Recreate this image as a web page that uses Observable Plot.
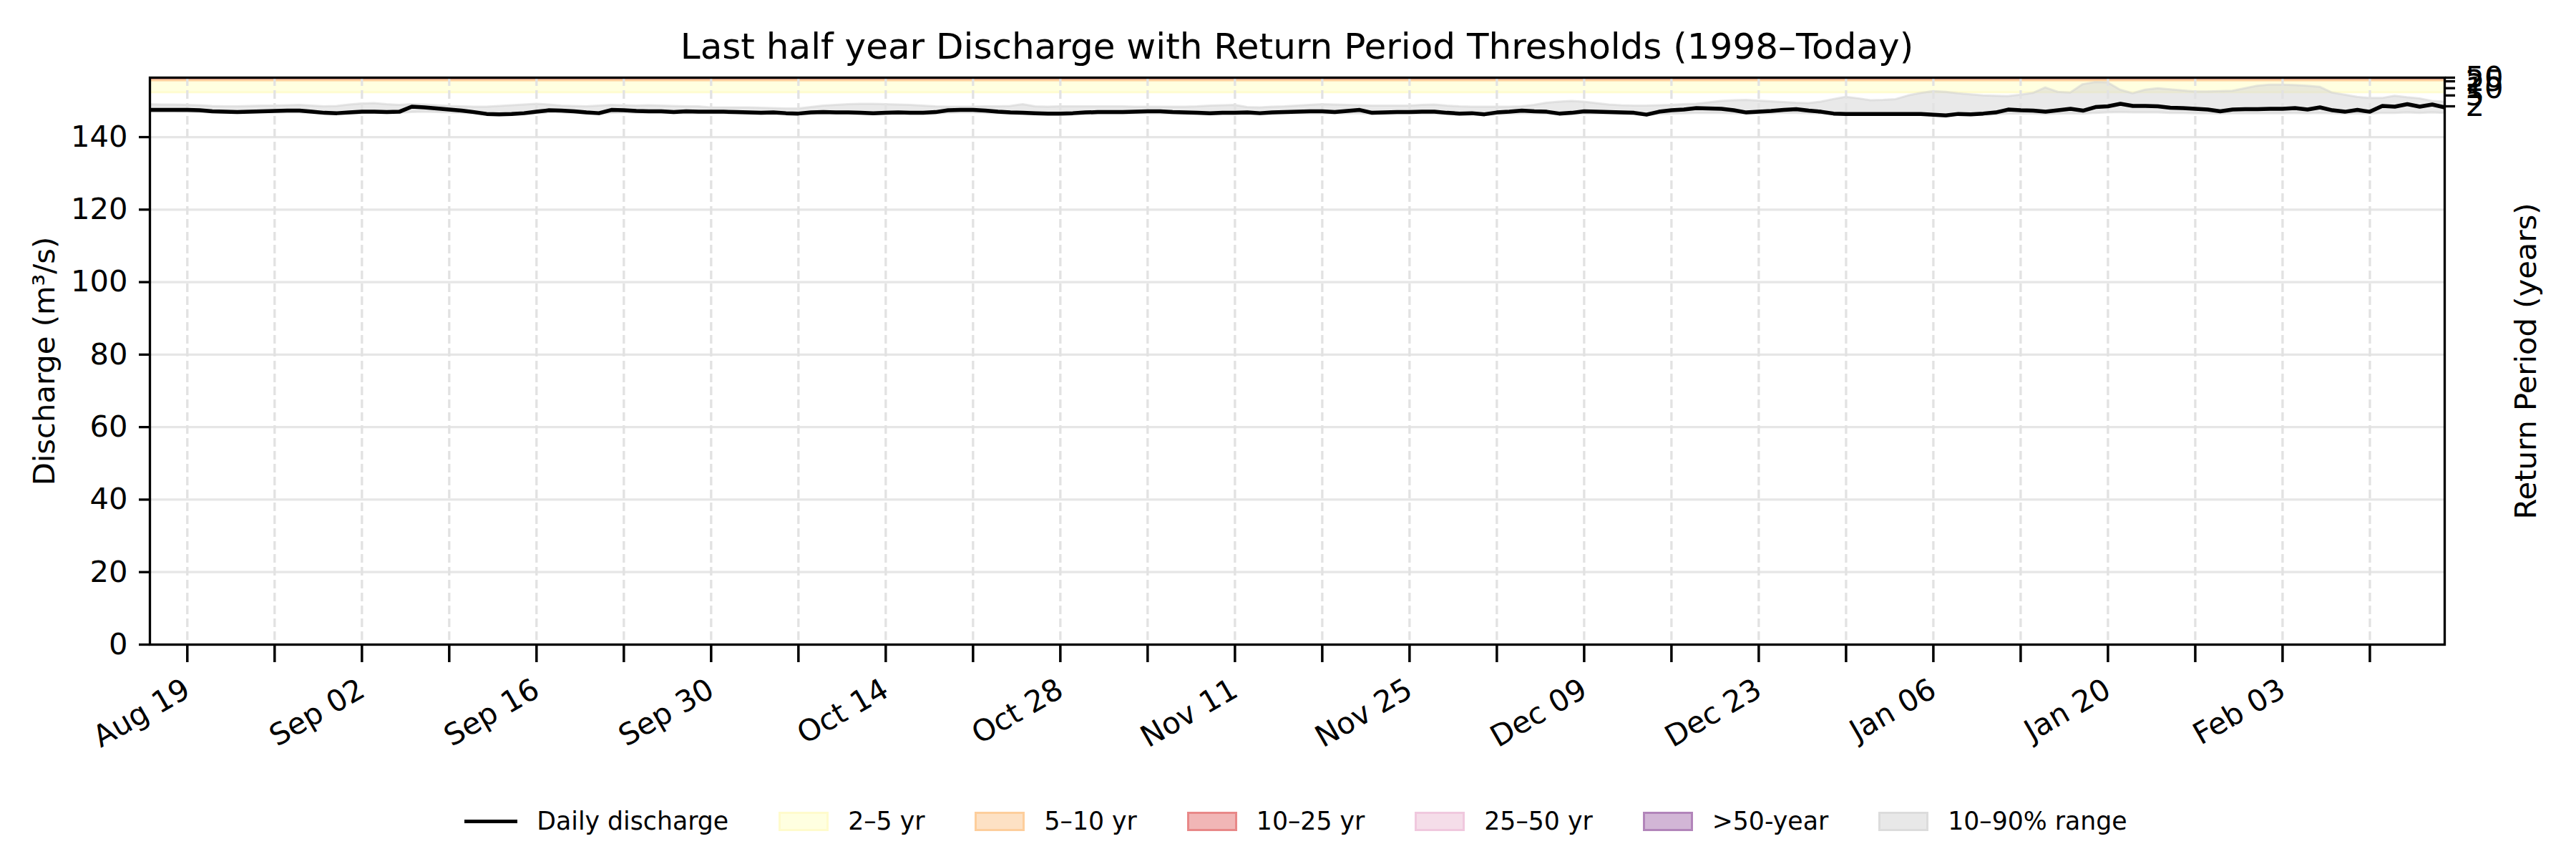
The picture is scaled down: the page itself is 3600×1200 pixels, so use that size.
<!DOCTYPE html>
<html><head><meta charset="utf-8">
<script src="https://cdn.jsdelivr.net/npm/d3@7"></script>
<script src="https://cdn.jsdelivr.net/npm/@observablehq/plot@0.6"></script>
<style>
body{margin:0;background:#fff;font-family:"DejaVu Sans",sans-serif;color:#000;}
#wrap{width:3600px;background:#fff;}
#title{box-sizing:border-box;width:3600px;height:60px;overflow:visible;padding:40px 184px 0 209px;font-size:50px;line-height:51px;text-align:center;white-space:nowrap;}
#chart svg{display:block;background:transparent;}
#legend{box-sizing:border-box;width:3600px;display:flex;justify-content:center;align-items:center;height:106px;padding-top:8px;font-size:34.7px;gap:70px;padding-left:22px;}
.item{display:flex;align-items:center;gap:27px;white-space:nowrap;}
.sw{width:70px;height:27px;box-sizing:border-box;border:3px solid;}
.ln{width:74px;height:5px;background:#000;}
</style>
</head><body>
<div id="wrap">
<div id="title">Last half year Discharge with Return Period Thresholds (1998–Today)</div>
<div id="chart"></div>
<div id="legend"></div>
</div>
<script>
// ---- data ----
const startDate = [2024, 7, 16]; // first daily value: 2024-08-16 (UTC)

const discharge = [
147.5,147.5,147.5,147.5,147.4,147.1,147.0,146.9,147.0,147.1,
147.2,147.3,147.3,147.0,146.7,146.6,146.8,147.0,147.0,146.9,
147.0,148.4,148.2,147.9,147.6,147.3,146.9,146.4,146.3,146.4,
146.6,147.0,147.4,147.3,147.1,146.8,146.6,147.5,147.4,147.2,
147.1,147.1,146.9,147.1,147.0,147.0,147.0,146.9,146.8,146.7,
146.8,146.6,146.5,146.8,146.9,146.8,146.8,146.7,146.6,146.7,
146.8,146.7,146.7,146.9,147.4,147.5,147.5,147.3,147.0,146.8,
146.7,146.6,146.5,146.5,146.6,146.8,146.9,146.9,146.9,147.0,
147.1,147.1,146.9,146.8,146.7,146.6,146.7,146.7,146.8,146.6,
146.8,146.9,147.0,147.1,147.1,146.9,147.2,147.5,146.7,146.8,
146.9,146.9,147.0,147.0,146.7,146.5,146.6,146.3,146.8,147.0,
147.3,147.1,147.0,146.5,146.7,147.1,147.0,146.9,146.8,146.7,
146.2,147.0,147.4,147.6,148.0,147.9,147.8,147.4,146.8,147.0,
147.2,147.5,147.7,147.3,147.0,146.5,146.4,146.4,146.4,146.4,
146.4,146.4,146.4,146.2,146.0,146.4,146.3,146.5,146.8,147.6,
147.4,147.3,147.0,147.4,147.8,147.3,148.3,148.5,149.2,148.6,
148.6,148.5,148.1,148.0,147.8,147.6,147.1,147.6,147.7,147.7,
147.8,147.8,148.0,147.6,148.2,147.4,147.0,147.5,147.0,148.6,
148.4,149.1,148.4,149.0,148.2
];

const q10 = [
146.9,146.9,146.9,146.8,146.8,146.7,146.6,146.6,146.6,146.7,
146.7,146.7,146.7,146.6,146.4,146.3,146.4,146.5,146.6,146.6,
146.6,146.8,146.9,146.8,146.7,146.6,146.4,146.1,146.0,146.1,
146.2,146.5,146.7,146.7,146.6,146.4,146.3,146.6,146.7,146.6,
146.6,146.6,146.5,146.5,146.5,146.5,146.5,146.4,146.4,146.3,
146.3,146.2,146.2,146.3,146.4,146.4,146.4,146.3,146.3,146.3,
146.4,146.4,146.4,146.4,146.6,146.7,146.7,146.6,146.5,146.4,
146.3,146.2,146.2,146.2,146.2,146.3,146.4,146.4,146.4,146.5,
146.5,146.5,146.4,146.3,146.3,146.2,146.3,146.3,146.3,146.2,
146.3,146.4,146.5,146.5,146.5,146.4,146.5,146.5,146.3,146.3,
146.4,146.4,146.4,146.4,146.3,146.2,146.2,146.0,146.2,146.4,
146.5,146.5,146.4,146.2,146.3,146.4,146.4,146.4,146.3,146.3,
146.1,146.3,146.4,146.5,146.6,146.6,146.6,146.5,146.4,146.4,
146.5,146.6,146.6,146.5,146.4,146.2,146.1,146.1,146.1,146.1,
146.1,146.1,146.1,146.0,145.9,146.0,146.0,146.1,146.2,146.4,
146.4,146.4,146.3,146.4,146.5,146.4,146.6,146.7,146.8,146.7,
146.7,146.7,146.6,146.6,146.5,146.5,146.4,146.5,146.5,146.5,
146.5,146.5,146.6,146.5,146.6,146.5,146.4,146.5,146.4,146.6,
146.6,146.7,146.6,146.7,146.6
];

const q90 = [
149.0,148.9,148.9,148.8,148.7,148.5,148.4,148.4,148.5,148.6,
148.6,148.7,148.8,148.6,148.4,148.5,148.9,149.2,149.3,149.0,
148.8,149.0,148.9,148.7,148.5,148.4,148.3,148.3,148.5,148.7,
148.9,149.1,148.9,148.6,148.5,148.4,148.6,148.8,148.7,148.6,
148.7,148.6,148.5,148.4,148.4,148.1,148.1,148.1,148.1,148.0,
147.9,147.8,147.8,148.2,148.6,148.8,149.0,149.1,149.1,149.0,
148.9,148.8,148.6,148.4,148.3,148.3,148.3,148.4,148.4,148.5,
149.0,148.4,148.3,148.4,148.4,148.4,148.4,148.4,148.4,148.3,
148.3,148.3,148.3,148.3,148.4,148.6,148.7,148.8,148.2,148.1,
148.3,148.4,148.6,148.8,149.0,148.9,148.8,148.7,148.6,148.6,
148.6,148.6,148.8,148.9,148.6,148.4,148.3,148.3,148.3,148.3,
148.4,148.8,149.4,149.7,149.9,149.7,149.3,148.9,148.7,148.6,
148.6,148.7,148.8,149.0,149.1,149.5,149.9,150.1,150.2,150.0,
149.8,149.6,149.4,149.3,149.7,150.4,151.0,150.6,150.1,150.2,
150.4,151.4,152.1,152.6,152.4,152.0,151.7,151.4,151.3,151.2,
151.6,152.1,153.6,152.4,152.2,154.5,155.1,155.0,153.0,152.0,
153.0,153.4,153.1,152.8,152.5,152.5,152.6,152.7,153.4,154.1,
154.4,154.4,154.3,154.1,153.8,152.2,151.6,151.0,150.7,150.7,
151.3,150.9,150.6,149.9,149.7
];

const yTop = 156.4;
const yTicks = [0, 20, 40, 60, 80, 100, 120, 140];

// return-period axis (right): tick positions as drawn, on the discharge scale
const rpLabels = ["2", "5", "10", "25", "50"];
const rpTickPos = [148.5, 151.5, 153.5, 155.4, 156.4];

// return-period bands visible in the frame
const bandNames = ["2–5 yr", "5–10 yr", "10–25 yr"];
const bandLo = [152.3, 155.6, 156.2];
const bandHi = [155.6, 156.2, 156.4];
const bandFill = ["#ffffe0", "#fee6c9", "#f1b6b6"];
const bandStroke = ["#fffcd0", "#fdd09f", "#e88888"];

const weekTicks = ["2024-08-19","2024-08-26","2024-09-02","2024-09-09","2024-09-16","2024-09-23",
"2024-09-30","2024-10-07","2024-10-14","2024-10-21","2024-10-28","2024-11-04","2024-11-11",
"2024-11-18","2024-11-25","2024-12-02","2024-12-09","2024-12-16","2024-12-23","2024-12-30",
"2025-01-06","2025-01-13","2025-01-20","2025-01-27","2025-02-03","2025-02-10"];
const labelTicks = ["2024-08-19","2024-09-02","2024-09-16","2024-09-30","2024-10-14","2024-10-28",
"2024-11-11","2024-11-25","2024-12-09","2024-12-23","2025-01-06","2025-01-20","2025-02-03"];

const legendNames = ["Daily discharge", "2–5 yr", "5–10 yr", "10–25 yr", "25–50 yr", ">50-year", "10–90% range"];
const legendFill = [null, "#ffffe0", "#fde1c4", "#f1b6b6", "#f5dde9", "#d2b6d6", "#e8e8e8"];
const legendStroke = [null, "#fffbcc", "#fdce9c", "#e88888", "#f0c8de", "#b285ba", "#dcdcdc"];

// ---- build ----
const data = discharge.map((v, i) => ({
  date: new Date(Date.UTC(startDate[0], startDate[1], startDate[2] + i)),
  q: v, lo: q10[i], hi: q90[i]
}));
const x0 = data[0].date, x1 = data[data.length - 1].date;
const bands = bandNames.map((n, i) => ({name: n, lo: bandLo[i], hi: bandHi[i], fill: bandFill[i], stroke: bandStroke[i]}));
const wk = weekTicks.map(s => new Date(s + "T00:00:00Z"));
const lk = labelTicks.map(s => new Date(s + "T00:00:00Z"));
const fmt = d3.utcFormat("%b %d");
const rpMap = new Map(rpTickPos.map((p, i) => [p, rpLabels[i]]));

const chart = Plot.plot({
  width: 3600, height: 1030,
  marginTop: 48, marginBottom: 190, marginLeft: 209, marginRight: 184,
  style: {fontFamily: "DejaVu Sans", fontSize: "41.7px", background: "transparent", color: "black", overflow: "visible"},
  x: {type: "utc", domain: [x0, x1]},
  y: {domain: [0, yTop]},
  color: {type: "identity"},
  marks: [
    Plot.rect(bands, {x1: () => x0, x2: () => x1, y1: "lo", y2: "hi", fill: "fill", stroke: "stroke", strokeWidth: 3, clip: true}),
    Plot.areaY(data, {x: "date", y1: "lo", y2: "hi", fill: "#d3d3d3", fillOpacity: 0.5, stroke: "#cfcfcf", strokeOpacity: 0.5, strokeWidth: 3, clip: true}),
    Plot.ruleY(yTicks, {stroke: "#e6e6e6", strokeWidth: 3.3}),
    Plot.ruleX(wk, {stroke: "#e2e2e2", strokeWidth: 3.3, strokeDasharray: "12,6"}),
    Plot.line(data, {x: "date", y: "q", stroke: "black", strokeWidth: 5.5, clip: true}),
    Plot.frame({stroke: "black", strokeWidth: 3.3}),
    Plot.axisY(yTicks, {anchor: "left", tickSize: 15, tickPadding: 16, strokeWidth: 3.3, label: null}),
    Plot.axisY(rpTickPos, {anchor: "right", tickSize: 14, tickPadding: 15, strokeWidth: 3.3, tickFormat: d => rpMap.get(d), label: null}),
    Plot.axisX(wk, {anchor: "bottom", tickSize: 25, strokeWidth: 3.5, tickFormat: () => "", label: null}),
    Plot.text(lk, {x: d => d, frameAnchor: "bottom", text: d => fmt(d), rotate: -30, textAnchor: "end", lineAnchor: "top", dy: 45, dx: -8}),
    Plot.text(["Discharge (m³/s)"], {frameAnchor: "left", text: d => d, rotate: -90, dx: -147, textAnchor: "middle", lineAnchor: "middle"}),
    Plot.text(["Return Period (years)"], {frameAnchor: "right", text: d => d, rotate: -90, dx: 114, textAnchor: "middle", lineAnchor: "middle"})
  ]
});
document.getElementById("chart").appendChild(chart);

// legend
const leg = document.getElementById("legend");
legendNames.forEach((n, i) => {
  const it = document.createElement("div");
  it.className = "item";
  const m = document.createElement("div");
  if (legendFill[i] === null) { m.className = "ln"; }
  else { m.className = "sw"; m.style.background = legendFill[i]; m.style.borderColor = legendStroke[i]; }
  const t = document.createElement("span");
  t.textContent = n;
  it.appendChild(m); it.appendChild(t);
  leg.appendChild(it);
});
</script>
</body></html>
